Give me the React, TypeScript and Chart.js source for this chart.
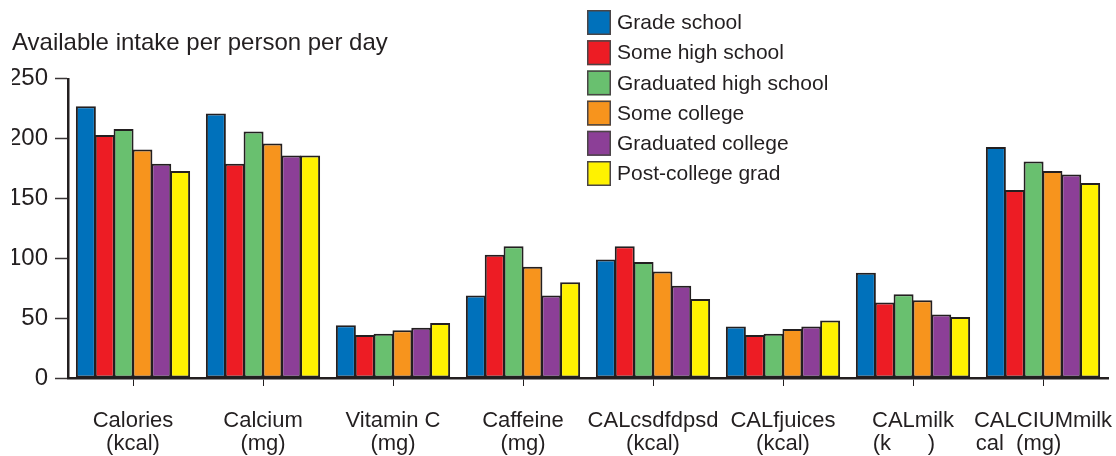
import React, { useEffect, useRef } from "react";
import { Chart, registerables } from "chart.js";

Chart.register(...registerables);

const categories: string[][] = [
  ["Calories", "(kcal)"],
  ["Calcium", "(mg)"],
  ["Vitamin C", "(mg)"],
  ["Caffeine", "(mg)"],
  ["CALcsdfdpsd", "(kcal)"],
  ["CALfjuices", "(kcal)"],
  ["CALmilk", "(k      )   "],
  ["CALCIUMmilk", "cal  (mg)        "],
];

const seriesNames = [
  "Grade school",
  "Some high school",
  "Graduated high school",
  "Some college",
  "Graduated college",
  "Post-college grad",
];

const gradeSchool = [227, 221, 44, 69, 99, 43, 88, 193];
const someHighSchool = [203, 179, 36, 103, 110, 36, 63, 157];
const graduatedHighSchool = [208, 206, 37, 110, 97, 37, 70, 181];
const someCollege = [191, 196, 40, 93, 89, 41, 65, 173];
const graduatedCollege = [179, 186, 42, 69, 77, 43, 53, 170];
const postCollegeGrad = [173, 186, 46, 80, 66, 48, 51, 163];

const seriesColors = ["#0071bb", "#ed1c24", "#69c06f", "#f7941d", "#8c3f97", "#fff200"];

const yTickValues = [0, 50, 100, 150, 200, 250];
const titleText = "Available intake per person per day";

const INK = "#231f20";
const FONT = "'Liberation Sans', Arial, Helvetica, sans-serif";

const legendPlugin = {
  id: "customLegend",
  afterDraw(chart: any) {
    const ctx = chart.ctx as CanvasRenderingContext2D;
    const x0 = 587;
    const y0 = 10;
    const pitch = 30.2;
    const bw = 24;
    const bh = 25;
    ctx.save();
    ctx.font = `21px ${FONT}`;
    ctx.textBaseline = "middle";
    ctx.textAlign = "left";
    chart.data.datasets.forEach((ds: any, i: number) => {
      const y = y0 + i * pitch;
      ctx.fillStyle = ds.backgroundColor;
      ctx.fillRect(x0, y, bw, bh);
      ctx.lineWidth = 1.5;
      ctx.strokeStyle = "#4a4546";
      ctx.strokeRect(x0 + 0.75, y + 0.75, bw - 1.5, bh - 1.5);
      ctx.fillStyle = INK;
      ctx.fillText(ds.label, x0 + bw + 6, y + bh / 2 + 1);
    });
    ctx.restore();
  },
};

export default function App() {
  const canvasRef = useRef<HTMLCanvasElement>(null);

  useEffect(() => {
    if (!canvasRef.current) return;
    const values = [
      gradeSchool,
      someHighSchool,
      graduatedHighSchool,
      someCollege,
      graduatedCollege,
      postCollegeGrad,
    ];
    const chart = new Chart(canvasRef.current, {
      type: "bar",
      data: {
        labels: categories,
        datasets: values.map((d, i) => ({
          label: seriesNames[i],
          data: d,
          backgroundColor: seriesColors[i],
          borderColor: INK,
          borderWidth: 2,
          borderSkipped: false,
          inflateAmount: 0,
          categoryPercentage: 0.87,
          barPercentage: 1.06,
        })),
      },
      options: {
        responsive: false,
        animation: false,
        events: [],
        layout: { padding: { left: 12, right: 8, top: 0, bottom: 0 } },
        plugins: {
          legend: { display: false },
          tooltip: { enabled: false },
          title: {
            display: true,
            text: titleText,
            align: "start",
            color: INK,
            font: { family: FONT, size: 24, weight: "normal", lineHeight: 1.2 },
            padding: { top: 29, bottom: 21 },
          },
        },
        scales: {
          x: {
            type: "category",
            offset: true,
            grid: {
              display: true,
              offset: false,
              drawOnChartArea: false,
              drawTicks: true,
              tickLength: 8,
              tickColor: INK,
              tickWidth: 1,
            },
            border: { display: true, color: INK, width: 2.5 },
            ticks: {
              color: INK,
              font: { family: FONT, size: 22, lineHeight: 1.07 },
              padding: 23,
              maxRotation: 0,
              autoSkip: false,
            },
            afterFit: (scale: any) => {
              scale.height = 78;
              scale.paddingLeft = 0;
              scale.paddingRight = 0;
            },
          },
          y: {
            min: 0,
            max: 250,
            grid: {
              display: true,
              drawOnChartArea: false,
              drawTicks: true,
              tickLength: 13,
              tickColor: "#3a3536",
              tickWidth: 1.5,
            },
            border: { display: true, color: INK, width: 2.5 },
            afterBuildTicks: (scale: any) => {
              scale.ticks = yTickValues.map((v) => ({ value: v }));
            },
            ticks: {
              color: INK,
              font: { family: FONT, size: 24 },
              padding: 7,
            },
            afterFit: (scale: any) => {
              scale.width = 56;
            },
          },
        },
      },
      plugins: [legendPlugin],
    });
    return () => chart.destroy();
  }, []);

  return (
    <div
      style={{
        position: "fixed",
        left: 0,
        top: 0,
        width: 1116,
        height: 456,
        background: "#ffffff",
        overflow: "hidden",
      }}
    >
      <canvas ref={canvasRef} width={1116} height={456} style={{ display: "block" }} />
    </div>
  );
}
